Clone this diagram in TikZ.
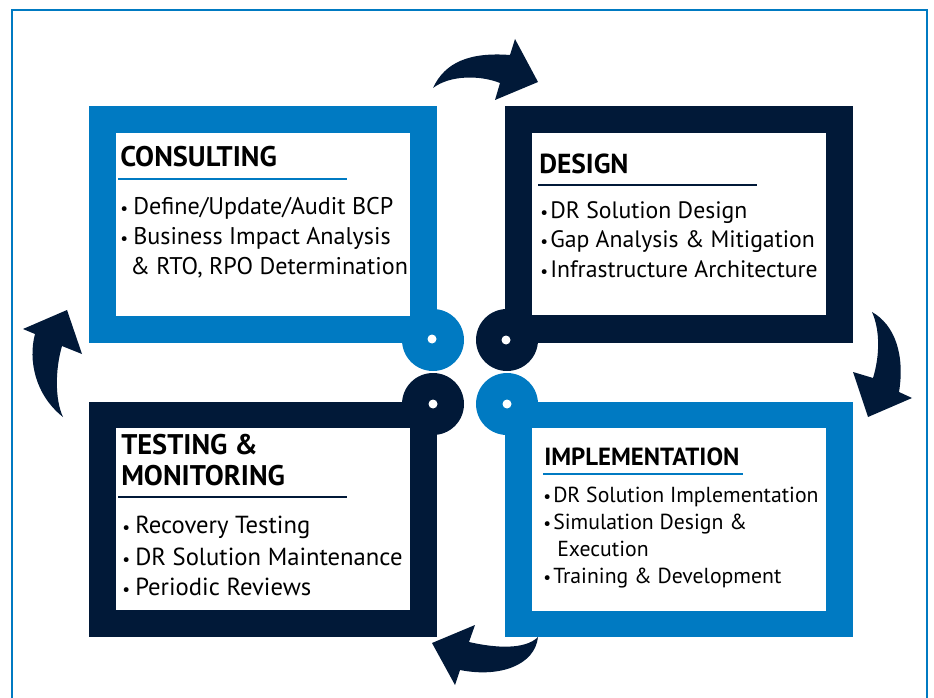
\documentclass[tikz,border=0pt]{standalone}
\usepackage{fontspec}
\setmainfont{PT Sans}
\definecolor{cblue}{RGB}{0,122,194}
\definecolor{cnavy}{RGB}{1,25,56}
\begin{document}
\begin{tikzpicture}[x=0.75pt,y=-0.75pt,
  title/.style={anchor=base west, inner sep=0pt, font=\bfseries\fontsize{21.3}{24}\selectfont},
  item/.style={anchor=base west, inner sep=0pt, font=\fontsize{18.5}{22}\selectfont},
  bul/.style={anchor=base west, inner sep=0pt, font=\fontsize{13}{16}\selectfont},
  uline/.style={line width=1.6pt},
  arrowshape/.style={fill=cnavy},
  hole/.style={fill=white}]
\useasboundingbox (0,0) rectangle (934,698);
% outer frame
\draw[cblue, line width=1.5pt] (12,698) -- (12,10) -- (927,10) -- (927,698);
% boxes
\fill[cblue] (89,106) rectangle (437,343);
\fill[white] (116,133) rectangle (410,316);
\fill[cnavy] (505,106) rectangle (853,343);
\fill[white] (532,133) rectangle (826,315);
\fill[cblue] (505,402) rectangle (853,637);
\fill[white] (532,428) rectangle (826,611);
\fill[cnavy] (89,402) rectangle (437,637);
\fill[white] (116,428) rectangle (410,610);
% rings
\fill[cblue] (433,340) circle (31);
\fill[hole] (432,339) circle (4.5);
\fill[cnavy] (507,340) circle (31);
\fill[hole] (506,340) circle (4.5);
\fill[cnavy] (433,404) circle (31);
\fill[hole] (433,404) circle (4.5);
\fill[cblue] (507,404) circle (31);
\fill[hole] (507,404) circle (4.5);
% arrows
\fill[arrowshape] (433,88) .. controls (445,62) and (470,52) .. (510,55)
  -- (515,39) -- (538,82) -- (495,100) -- (500,83)
  .. controls (480,75) and (450,75) .. (433,88) -- cycle;
\fill[arrowshape] (872,312) .. controls (895,325) and (905,355) .. (899,392)
  -- (912,398) -- (868,417) -- (853,372) -- (873,378)
  .. controls (880,355) and (880,330) .. (872,312) -- cycle;
\fill[arrowshape] (538,637) .. controls (525,650) and (495,648) .. (469,642)
  -- (475,625) -- (432,643) -- (455,685) -- (460,670)
  .. controls (500,678) and (535,665) .. (538,637) -- cycle;
\fill[arrowshape] (63,417) .. controls (55,400) and (55,370) .. (62,346)
  -- (82,354) -- (67,310) -- (23,329) -- (35,334)
  .. controls (28,360) and (35,395) .. (63,417) -- cycle;
% CONSULTING
\begin{scope}[item/.append style={font=\fontsize{18.1}{22}\selectfont}]
\node[title] (ct) at (120,167) {CONSULTING};
\draw[cblue, uline] (118,179) -- (347,179);
\node[bul] (cb1) at (120,215) {•};
\node[item] (c1) at (133,215) {Define/Update/Audit BCP};
\node[bul] (cb2) at (120,245) {•};
\node[item] (c2) at (133,245) {Business Impact Analysis};
\node[item] (c3) at (130,275) {\& RTO, RPO Determination};
\end{scope}
% DESIGN
\begin{scope}[item/.append style={font=\fontsize{17.8}{21}\selectfont},
              title/.append style={font=\bfseries\fontsize{20.6}{24}\selectfont}]
\node[title] (dt) at (539,174) {DESIGN};
\draw[cnavy, uline] (538,185) -- (757,185);
\node[bul] (db1) at (540,219) {•};
\node[item] (d1) at (550,219) {DR Solution Design};
\node[bul] (db2) at (540,248) {•};
\node[item] (d2) at (550,248) {Gap Analysis \& Mitigation};
\node[bul] (db3) at (540,277) {•};
\node[item] (d3) at (550,277) {Infrastructure Architecture};
\end{scope}
% IMPLEMENTATION
\begin{scope}[item/.append style={font=\fontsize{16.3}{20}\selectfont},
              title/.append style={font=\bfseries\fontsize{18.6}{22}\selectfont}]
\node[title] (it) at (544,465) {IMPLEMENTATION};
\draw[cblue, uline] (543,474) -- (743,474);
\node[bul] (ib1) at (543,502) {•};
\node[item] (i1) at (553,502) {DR Solution Implementation};
\node[bul] (ib2) at (543,529) {•};
\node[item] (i2) at (553,529) {Simulation Design \&};
\node[item] (i3) at (557,556) {Execution};
\node[bul] (ib4) at (543,583) {•};
\node[item] (i4) at (553,583) {Training \& Development};
\end{scope}
% TESTING & MONITORING
\node[title] (tt1) at (121,454) {TESTING \&};
\node[title] (tt2) at (121,485) {MONITORING};
\draw[cnavy, uline] (118,497) -- (347,497);
\node[bul] (tb1) at (122,533) {•};
\node[item] (t1) at (135,533) {Recovery Testing};
\node[bul] (tb2) at (122,565) {•};
\node[item] (t2) at (135,565) {DR Solution Maintenance};
\node[bul] (tb3) at (122,595) {•};
\node[item] (t3) at (135,595) {Periodic Reviews};
\end{tikzpicture}
\end{document}
